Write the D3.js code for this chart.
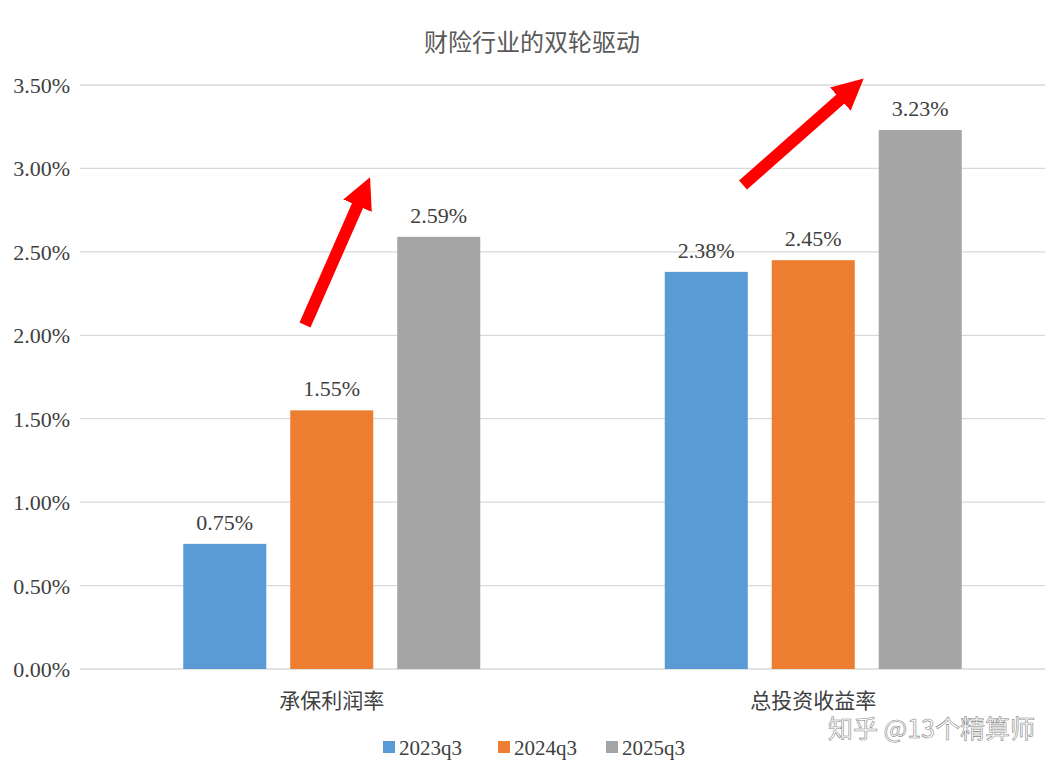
<!DOCTYPE html>
<html><head><meta charset="utf-8">
<script src="https://cdn.jsdelivr.net/npm/d3@7"></script>
<style>body{margin:0;background:#fff}</style>
</head><body>
<svg id="chart" width="1063" height="769"></svg>
<script>
const categories = ["承保利润率", "总投资收益率"];
const seriesNames = ["2023q3", "2024q3", "2025q3"];
const colors = ["#5b9bd5", "#ed7d31", "#a5a5a5"];
const values = [
  [0.75, 2.38],
  [1.55, 2.45],
  [2.59, 3.23]
];
const yTicks = [0, 0.5, 1, 1.5, 2, 2.5, 3, 3.5];

const svg = d3.select("#chart");
const serif = "'Liberation Serif','Times New Roman',serif";
const cjk = "'Noto Sans CJK SC',sans-serif";

let y = d3.scaleLinear().domain([0, 3.5]).range([669, 85]);
let x0 = d3.scaleBand().domain(categories).range([91, 1054]);
let x1 = d3.scaleBand().domain(seriesNames).range([0, 297]).paddingInner(0.224);

svg.append("text").attr("x", 532).attr("y", 51).attr("text-anchor", "middle")
  .style("font-family", cjk).style("font-size", "24px").style("fill", "#595959")
  .text("财险行业的双轮驱动");

// grid
svg.selectAll(".grid").data(yTicks).enter().append("line")
  .attr("x1", 80).attr("x2", 1045)
  .attr("y1", d => y(d)).attr("y2", d => y(d))
  .attr("stroke", "#d9d9d9").attr("stroke-width", 1.3);

svg.selectAll(".ytick").data(yTicks).enter().append("text")
  .attr("x", 70).attr("y", d => y(d) + 8).attr("text-anchor", "end")
  .style("font-family", serif).style("font-size", "22px").style("fill", "#404040")
  .text(d => d.toFixed(2) + "%");

seriesNames.forEach(function(s, si) {
  categories.forEach(function(c, ci) {
    let v = values[si][ci];
    let bx = x0(c) + x0.bandwidth() / 2 - 148.5 + x1(s);
    svg.append("rect").attr("x", bx).attr("y", y(v))
      .attr("width", x1.bandwidth()).attr("height", y(0) - y(v))
      .attr("fill", colors[si]);
    svg.append("text").attr("x", bx + x1.bandwidth() / 2).attr("y", y(v) - 14)
      .attr("text-anchor", "middle")
      .style("font-family", serif).style("font-size", "22px").style("fill", "#404040")
      .text(v.toFixed(2) + "%");
  });
});

svg.selectAll(".cat").data(categories).enter().append("text")
  .attr("x", d => x0(d) + x0.bandwidth() / 2).attr("y", 708).attr("text-anchor", "middle")
  .style("font-family", cjk).style("font-size", "21px").style("fill", "#404040")
  .text(d => d);

// arrows
const defs = svg.append("defs");
defs.append("marker").attr("id", "ah").attr("viewBox", "0 0 10 10")
  .attr("refX", 2).attr("refY", 5).attr("markerWidth", 2.6).attr("markerHeight", 2.6)
  .attr("orient", "auto").attr("markerUnits", "strokeWidth")
  .append("path").attr("d", "M0,0 L10,5 L0,10 Z").attr("fill", "#ff0000");
[[305, 325, 360, 200], [743, 185, 845, 95]].forEach(function(a) {
  svg.append("line").attr("x1", a[0]).attr("y1", a[1]).attr("x2", a[2]).attr("y2", a[3])
    .attr("stroke", "#ff0000").attr("stroke-width", 12).attr("marker-end", "url(#ah)");
});

// legend
let lg = svg.append("g");
let lx = [383, 498, 606];
seriesNames.forEach(function(s, i) {
  lg.append("rect").attr("x", lx[i]).attr("y", 741).attr("width", 12).attr("height", 12).attr("fill", colors[i]);
  lg.append("text").attr("x", lx[i] + 16).attr("y", 755)
    .style("font-family", serif).style("font-size", "21px").style("fill", "#404040").text(s);
});

svg.append("text").attr("x", 1035).attr("y", 738).attr("text-anchor", "end")
  .style("font-family", cjk).style("font-size", "25px").style("fill", "#ffffff")
  .style("stroke", "#888").style("stroke-width", 0.6).text("知乎 @13个精算师");
</script>
</body></html>
